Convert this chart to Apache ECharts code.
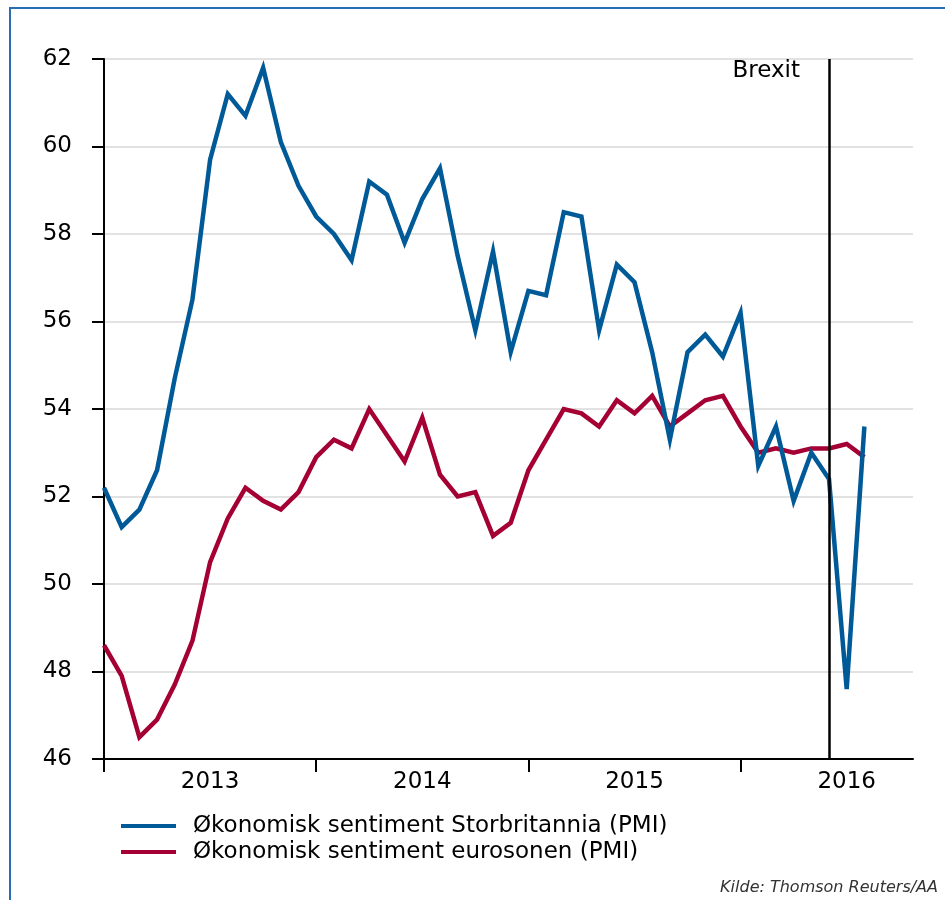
<!DOCTYPE html>
<html>
<head>
<meta charset="utf-8">
<script src="https://cdn.jsdelivr.net/npm/echarts@6/dist/echarts.min.js"></script>
<style>html,body{margin:0;padding:0;background:#fff}#c{width:945px;height:900px}</style>
</head>
<body>
<div id="c"></div>
<script>
// Monthly, Jan 2013 (index 0) .. Aug 2016 (index 43)
var months = ['2013-01','2013-02','2013-03','2013-04','2013-05','2013-06','2013-07','2013-08','2013-09','2013-10','2013-11','2013-12',
  '2014-01','2014-02','2014-03','2014-04','2014-05','2014-06','2014-07','2014-08','2014-09','2014-10','2014-11','2014-12',
  '2015-01','2015-02','2015-03','2015-04','2015-05','2015-06','2015-07','2015-08','2015-09','2015-10','2015-11','2015-12',
  '2016-01','2016-02','2016-03','2016-04','2016-05','2016-06','2016-07','2016-08'];
var ukPMI = [52.2,51.3,51.7,52.6,54.7,56.5,59.7,61.2,60.7,61.8,60.1,59.1,
  58.4,58.0,57.4,59.2,58.9,57.8,58.8,59.5,57.5,55.8,57.6,55.3,
  56.7,56.6,58.5,58.4,55.8,57.3,56.9,55.3,53.3,55.3,55.7,55.2,
  56.2,52.7,53.6,51.9,53.0,52.4,47.6,53.6];
var ezPMI = [48.6,47.9,46.5,46.9,47.7,48.7,50.5,51.5,52.2,51.9,51.7,52.1,
  52.9,53.3,53.1,54.0,53.4,52.8,53.8,52.5,52.0,52.1,51.1,51.4,
  52.6,53.3,54.0,53.9,53.6,54.2,53.9,54.3,53.6,53.9,54.2,54.3,
  53.6,53.0,53.1,53.0,53.1,53.1,53.2,52.9];
var yearLabels = ['2013','2014','2015','2016'];
var yearTickValues = [0, 12, 24, 36];
var seriesNames = ['Økonomisk sentiment Storbritannia (PMI)','Økonomisk sentiment eurosonen (PMI)'];
var brexitIndex = 41;
var brexitText = 'Brexit';
var sourceText = 'Kilde: Thomson Reuters/AA';

function pts(arr){ return arr.map(function(v,i){ return [i, v]; }); }

var chart = echarts.init(document.getElementById('c'));
var FONT = '"DejaVu Sans", "Liberation Sans", Arial, sans-serif';
var FS = 23;
chart.setOption({
  animation: false,
  backgroundColor: '#fff',
  textStyle: {fontFamily: FONT},
  grid: {left: 104, top: 59, right: 32, bottom: 141, containLabel: false},
  xAxis: [{
    type: 'value', min: 0, max: 45.75, interval: 12,
    axisLine: {show: true, lineStyle: {color: '#000', width: 2}},
    axisTick: {show: true, inside: false, length: 13, customValues: yearTickValues, lineStyle: {color: '#000', width: 2}},
    axisLabel: {show: false},
    splitLine: {show: false}
  },{
    type: 'value', min: 0, max: 45.75, interval: 6, position: 'bottom',
    axisLine: {show: false}, axisTick: {show: false}, splitLine: {show: false},
    axisLabel: {show: true, margin: 12, fontSize: FS, color: '#000', fontFamily: FONT,
      formatter: function(v){ var k = Math.round(v); if (k % 12 === 6) return yearLabels[(k-6)/12] || ''; return ''; }}
  }],
  yAxis: {
    type: 'value', min: 46, max: 62, interval: 2,
    axisLine: {show: true, lineStyle: {color: '#000', width: 2}},
    axisTick: {show: true, inside: false, length: 12, lineStyle: {color: '#000', width: 2}},
    axisLabel: {fontSize: FS, color: '#000', margin: 32, fontFamily: FONT},
    splitLine: {show: true, lineStyle: {color: '#d9d9d9', width: 1.5}}
  },
  legend: {
    orient: 'vertical', left: 116, top: 808, itemWidth: 55, itemHeight: 4, itemGap: 0,
    icon: 'rect',
    textStyle: {fontSize: FS, lineHeight: 26, color: '#000', fontFamily: FONT, padding: [0,0,0,12]},
    data: seriesNames
  },
  series: [{
    name: seriesNames[0], type: 'line', data: pts(ukPMI), showSymbol: false, symbol: 'none',
    lineStyle: {color: '#005a98', width: 4.5, join: 'miter'}, itemStyle: {color: '#005a98'}, z: 3,
    markLine: {
      silent: true, symbol: 'none',
      lineStyle: {color: '#000', width: 2.5, type: 'solid'},
      label: {show: false},
      data: [{xAxis: brexitIndex}]
    },
    markPoint: {
      silent: true, symbol: 'rect', symbolSize: 0,
      label: {show: true, position: 'left', distance: 29, offset: [0, 12], formatter: brexitText,
        fontSize: FS, color: '#000', fontFamily: FONT},
      data: [{coord: [brexitIndex, 62]}]
    }
  },{
    name: seriesNames[1], type: 'line', data: pts(ezPMI), showSymbol: false, symbol: 'none',
    lineStyle: {color: '#a50034', width: 4.5, join: 'miter'}, itemStyle: {color: '#a50034'}, z: 2
  }],
  graphic: [
    {type: 'rect', shape: {x: 10, y: 8, width: 960, height: 920}, style: {fill: 'none', stroke: '#2a6db3', lineWidth: 2}, silent: true},
    {type: 'text', right: 7, top: 880, style: {text: sourceText, font: 'italic 16px "DejaVu Sans", "Liberation Sans", sans-serif', fill: '#333'}}
  ]
});
</script>
</body>
</html>
